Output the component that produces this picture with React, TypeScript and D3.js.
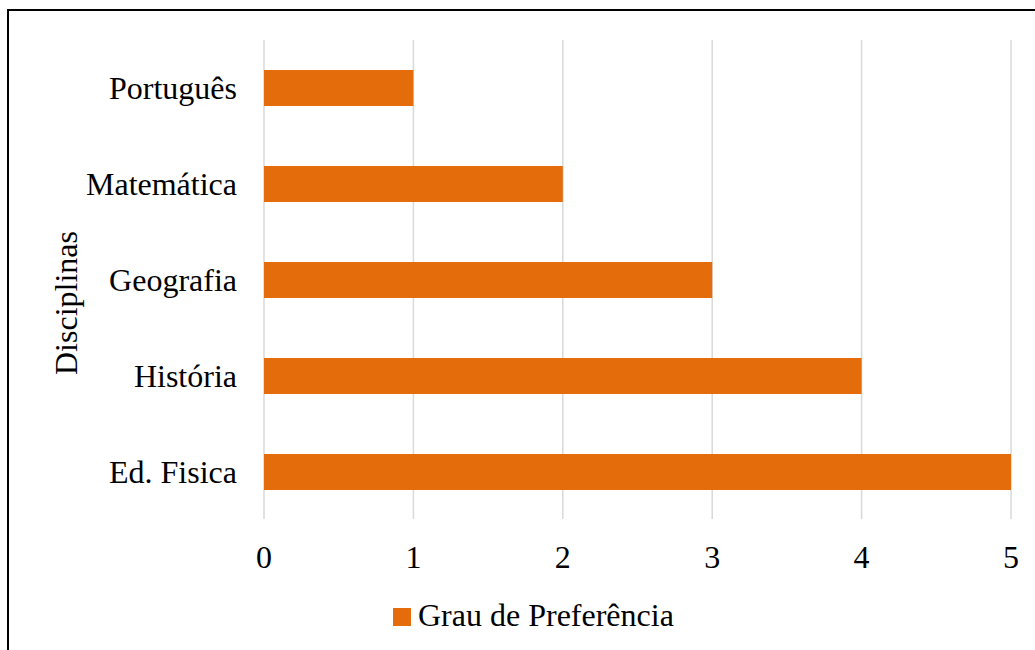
import { useEffect, useRef } from "react";
import * as d3 from "d3";

const CATEGORIES = ["Português", "Matemática", "Geografia", "História", "Ed. Fisica"];
const VALUES = [1, 2, 3, 4, 5];
const X_TICKS = [0, 1, 2, 3, 4, 5];
const SERIES_NAME = "Grau de Preferência";
const AXIS_TITLE = "Disciplinas";

const W = 1035, H = 650;
const FONT = "'Liberation Serif', 'Times New Roman', serif";
const BAR = "#E46C0A";

export default function App() {
  const ref = useRef<SVGSVGElement>(null);

  useEffect(() => {
    const el = ref.current;
    if (!el) return;
    const svg = d3.select(el);
    svg.selectAll("*").remove();

    svg.append("rect").attr("width", W).attr("height", H).attr("fill", "#fff");
    // frame, only top and left edges fall inside the picture
    svg.append("rect").attr("x", 8).attr("y", 10).attr("width", 1100).attr("height", 700)
      .attr("fill", "none").attr("stroke", "#000").attr("stroke-width", 2);

    const x = d3.scaleLinear().domain([0, 5]).range([264, 1011]);
    const y = d3.scaleBand<string>().domain(CATEGORIES).range([40, 520]).paddingInner(0.625).paddingOuter(0.3125);
    const data = CATEGORIES.map((c, i) => ({ c, v: VALUES[i] }));

    svg.append("g").selectAll("line").data(X_TICKS).join("line")
      .attr("x1", (d) => x(d)).attr("x2", (d) => x(d)).attr("y1", 40).attr("y2", 519)
      .attr("stroke", "#D9D9D9").attr("stroke-width", 1.5);

    svg.append("g").selectAll("rect").data(data).join("rect")
      .attr("x", x(0)).attr("y", (d) => y(d.c) ?? 0).attr("height", y.bandwidth())
      .attr("width", (d) => x(d.v) - x(0)).attr("fill", BAR);

    svg.append("g").selectAll("text").data(data).join("text")
      .attr("x", 237).attr("y", (d) => (y(d.c) ?? 0) + y.bandwidth() / 2 + 11)
      .attr("text-anchor", "end").attr("font-family", FONT).attr("font-size", 32).attr("fill", "#000")
      .text((d) => d.c);

    svg.append("g").selectAll("text").data(X_TICKS).join("text")
      .attr("x", (d) => x(d)).attr("y", 568).attr("text-anchor", "middle")
      .attr("font-family", FONT).attr("font-size", 32).attr("fill", "#000").text((d) => d);

    svg.append("text").attr("transform", "translate(77,303) rotate(-90)").attr("text-anchor", "middle")
      .attr("font-family", FONT).attr("font-size", 32).attr("fill", "#000").text(AXIS_TITLE);

    const lg = svg.append("g");
    lg.append("rect").attr("x", 393).attr("y", 608).attr("width", 18).attr("height", 18).attr("fill", BAR);
    lg.append("text").attr("x", 418).attr("y", 626).attr("font-family", FONT).attr("font-size", 32)
      .attr("fill", "#000").text(SERIES_NAME);
  }, []);

  return (
    <svg ref={ref} width={W} height={H} style={{ position: "absolute", left: 0, top: 0, display: "block" }} />
  );
}
